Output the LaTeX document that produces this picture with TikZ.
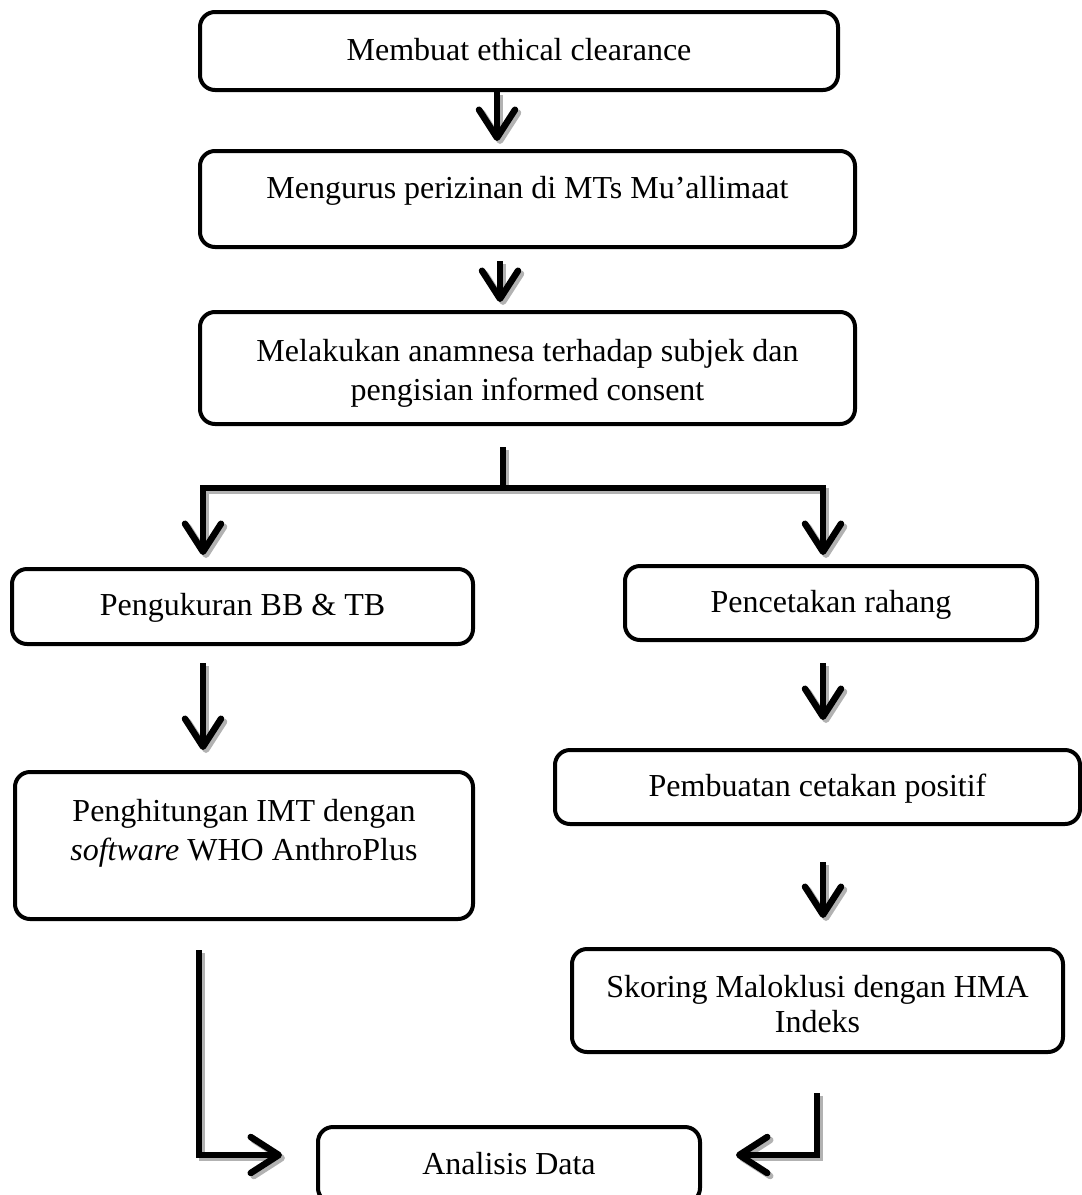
\documentclass[tikz,border=0pt]{standalone}
\usepackage{fontspec}
\setmainfont{Liberation Serif}
\usetikzlibrary{arrows.meta}
\begin{document}
\begin{tikzpicture}[x=0.5pt, y=-0.5pt,
        box/.style={draw, line width=2pt, rounded corners=7.5pt, align=center, inner sep=2pt,
            font=\fontsize{16}{19.5}\selectfont},
        single/.style={box, text height=11pt, text depth=2pt},
        link/.style={line width=3.25pt, line cap=butt,
            preaction={draw=gray!60, line width=3.25pt, transform canvas={shift={(1.5pt,-1.5pt)}}}},
        flow/.style={link, -{Straight Barb[length=14pt, width=18pt, round]}}]
    \useasboundingbox (0, 0) rectangle (1082, 1195);
    \node[single, minimum width=319pt, minimum height=39pt] (b1) at (519, 51) {Membuat ethical clearance};
    \node[single, minimum width=327.5pt, minimum height=48pt, text depth=12pt] (b2) at (527.5, 199) {Mengurus perizinan di MTs Mu’allimaat};
    \node[box, minimum width=327.5pt, minimum height=56pt, text height=32.5pt, text depth=0pt] (b3) at (527.5, 368) {Melakukan anamnesa terhadap subjek dan\\ pengisian informed consent};
    \node[single, minimum width=230.5pt, minimum height=37.5pt] (b4) at (242.5, 606.5) {Pengukuran BB \& TB};
    \node[single, minimum width=206pt, minimum height=37pt] (b5) at (831, 603) {Pencetakan rahang};
    \node[single, minimum width=262.5pt, minimum height=37pt] (b6) at (817.5, 787) {Pembuatan cetakan positif};
    \node[box, minimum width=229pt, minimum height=73.5pt, inner ysep=0pt, text height=30.5pt, text depth=16pt] (b7) at (244, 845.5) {Penghitungan IMT dengan\\ \emph{software} WHO AnthroPlus};
    \node[box, minimum width=245.5pt, minimum height=51.5pt, font=\fontsize{16}{17.5}\selectfont, text height=32pt, text depth=0pt] (b8) at (817.5, 1000.5) {Skoring Maloklusi dengan HMA\\ Indeks};
    \node[single, minimum width=191pt, minimum height=38pt] (b9) at (509, 1165) {Analisis Data};
    \coordinate (stub) at (503, 447);
    \coordinate (split) at (503, 488);
    \coordinate (t4) at (203, 555);
    \coordinate (t5) at (823, 555);
    \coordinate (s7) at (203, 663);
    \coordinate (t7) at (203, 750);
    \coordinate (s6) at (823, 663);
    \coordinate (t6) at (823, 720);
    \coordinate (s8) at (823, 862);
    \coordinate (t8) at (823, 918);
    \coordinate (l9) at (199, 950);
    \coordinate (tl9) at (282, 1155);
    \coordinate (r9) at (817, 1093);
    \coordinate (tr9) at (736, 1155);
    \draw[flow, shorten >=4pt] (b1.south -| 497, 0) -- (b2.north -| 497, 0);
    \draw[flow, shorten <=6pt, shorten >=4pt] (b2.south -| 500, 0) -- (b3.north -| 500, 0);
    \draw[link] (stub) -- (split);
    \draw[flow] (split) -| (t4);
    \draw[flow] (split) -| (t5);
    \draw[flow] (s7) -- (t7);
    \draw[flow] (s6) -- (t6);
    \draw[flow] (s8) -- (t8);
    \draw[flow] (l9) |- (tl9);
    \draw[flow] (r9) |- (tr9);
\end{tikzpicture}
\end{document}
